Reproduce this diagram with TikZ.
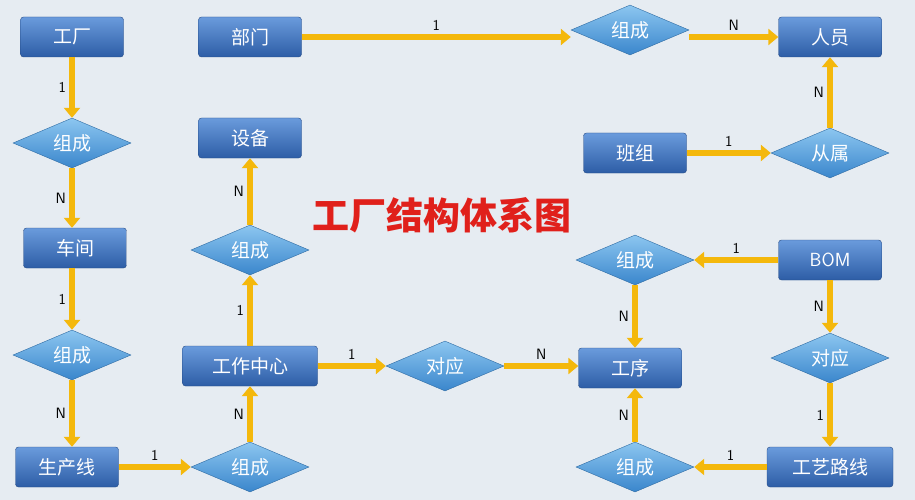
\documentclass[tikz,border=0pt]{standalone}
\usepackage{fontspec}
\newfontfamily\cjk{Noto Sans CJK SC}
\usetikzlibrary{arrows.meta,shapes.geometric}
\definecolor{bgcol}{HTML}{E6ECF2}
\definecolor{boxtop}{HTML}{6A9BDC}
\definecolor{boxbot}{HTML}{2D5DA6}
\definecolor{diatop}{HTML}{8CC6F0}
\definecolor{diabot}{HTML}{3A86CC}
\definecolor{arrcol}{HTML}{F4B80C}
\definecolor{titlered}{HTML}{E0201B}

\begin{document}
\begin{tikzpicture}[
    x=1pt, y=-1pt,
    entity/.style={rectangle, rounded corners=3pt, minimum width=103pt, minimum height=40pt,
        top color=boxtop, bottom color=boxbot, draw=boxbot!80!black, thin,
        text=white, font=\cjk\fontsize{19}{19}\selectfont},
    relation/.style={diamond, aspect=2.4, minimum width=118pt, minimum height=50pt, inner sep=0,
        top color=diatop, bottom color=diabot, draw=diabot!80!black, thin,
        text=white, font=\cjk\fontsize{19}{19}\selectfont},
    link/.style={draw=arrcol, line width=5.5pt, -{Triangle[length=10pt,width=16pt]}},
    card/.style={font=\sffamily\fontsize{15}{15}\selectfont, text=black}
]
\fill[bgcol] (0,0) rectangle (915,500);
\useasboundingbox (0,0) rectangle (915,500);

% left column
\node[entity] (gongchang) at (72,37) {工厂};
\node[relation] (zc1) at (72,143) {组成};
\node[entity] (chejian) at (75,248) {车间};
\node[relation] (zc2) at (72,355) {组成};
\node[entity] (scx) at (67,467) {生产线};

% middle column
\node[entity] (bumen) at (250,37) {部门};
\node[entity] (shebei) at (250,138) {设备};
\node[relation] (zc3) at (250,250) {组成};
\node[entity, minimum width=135pt] (gzzx) at (250,366) {工作中心};
\node[relation] (zc4) at (250,467) {组成};
\node[relation] (dy1) at (445,366) {对应};

% right part
\node[relation] (zc5) at (630,30) {组成};
\node[entity] (renyuan) at (830,37) {人员};
\node[entity] (banzu) at (635,153) {班组};
\node[relation] (congshu) at (830,153) {从属};
\node[relation] (zc6) at (635,260) {组成};
\node[entity] (bom) at (830,260) {\sffamily BOM};
\node[entity] (gongxu) at (630,368) {工序};
\node[relation] (dy2) at (830,358) {对应};
\node[relation] (zc7) at (635,467) {组成};
\node[entity, minimum width=126pt] (gylx) at (830,467) {工艺路线};

\node[text=titlered, font=\cjk\bfseries\fontsize{37}{37}\selectfont] (title) at (442,215) {工厂结构体系图};

% connectors
\draw[link] (gongchang) -- node[card, left] {1} (zc1);
\draw[link] (zc1) -- node[card, left] {N} (chejian.north-|zc1);
\draw[link] (chejian.south-|zc2) -- node[card, left] {1} (zc2);
\draw[link] (zc2) -- node[card, left] {N} (scx.north-|zc2);
\draw[link] (scx) -- node[card, above] {1} (zc4);
\draw[link] (zc4) -- node[card, left] {N} (gzzx);
\draw[link] (gzzx) -- node[card, left] {1} (zc3);
\draw[link] (zc3) -- node[card, left] {N} (shebei);
\draw[link] (gzzx) -- node[card, above] {1} (dy1);
\draw[link] (dy1.east) -- node[card, above] {N} (gongxu.west|-dy1);
\draw[link] (bumen) -- node[card, above] {1} (zc5.west|-bumen);
\draw[link] (zc5.east|-renyuan) -- node[card, above] {N} (renyuan);
\draw[link] (banzu) -- node[card, above] {1} (congshu);
\draw[link] (congshu) -- node[card, left] {N} (renyuan);
\draw[link] (bom) -- node[card, above] {1} (zc6);
\draw[link] (zc6) -- node[card, left] {N} (gongxu.north-|zc6);
\draw[link] (bom) -- node[card, left] {N} (dy2);
\draw[link] (dy2) -- node[card, left] {1} (gylx);
\draw[link] (gylx) -- node[card, above] {1} (zc7);
\draw[link] (zc7) -- node[card, left] {N} (gongxu.south-|zc7);

\end{tikzpicture}
\end{document}
